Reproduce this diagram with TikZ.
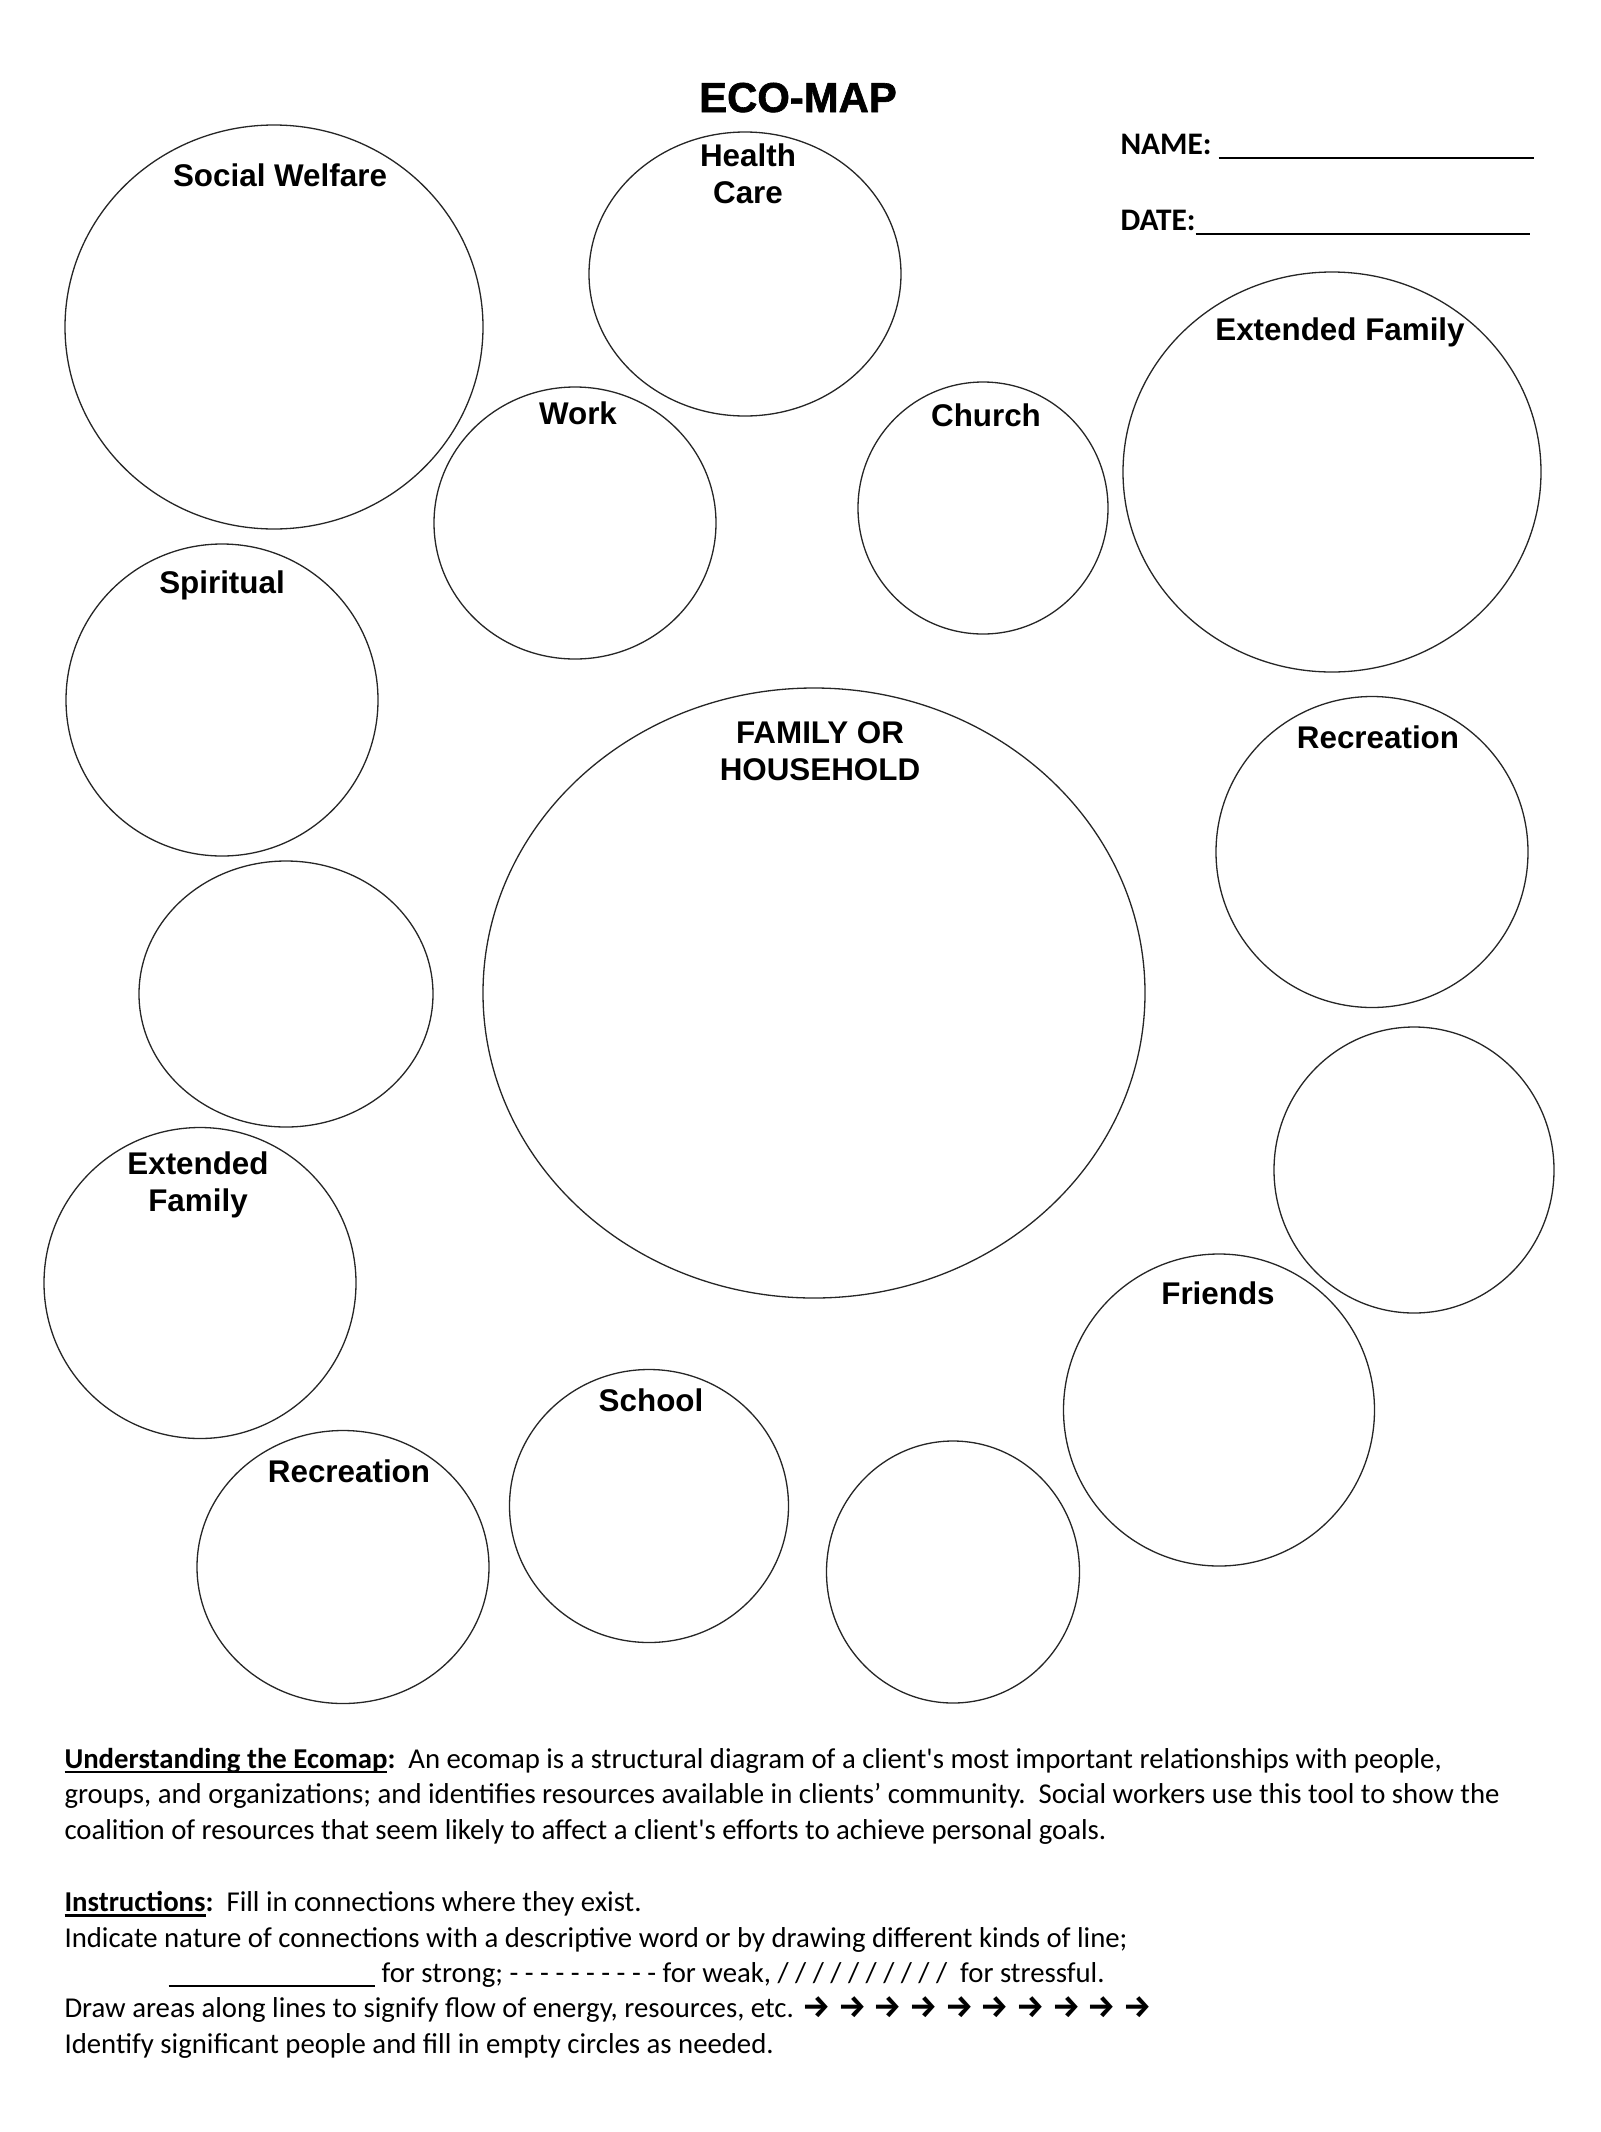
\documentclass[tikz,border=0pt]{standalone}
\usepackage{fontspec}
\setmainfont{Carlito}
\newfontfamily\arialfont{Liberation Sans}
\newfontfamily\arrowfont{Fira Sans}
\usetikzlibrary{shapes.geometric}
\newcommand{\heavyul}[1]{\setbox0=\hbox{#1}\rlap{\rule[-1.9pt]{\wd0}{0.9pt}}\box0}

\begin{document}
\begin{tikzpicture}[
    x=0.3825pt, y=-0.3825pt,
    ring/.style 2 args={draw=black!85, line width=0.5pt, ellipse, inner sep=0pt, minimum width=#1*0.3825pt, minimum height=#2*0.3825pt},
    tag/.style={font=\arialfont\bfseries\fontsize{12}{13.8}\selectfont, inner sep=0pt, align=center, anchor=base},
    heading/.style={font=\arialfont\bfseries\fontsize{16}{19}\selectfont\addfontfeature{FakeBold=1.5}, inner sep=0pt, anchor=base},
    field/.style={font=\bfseries\fontsize{12}{14}\selectfont, inner sep=0pt, anchor=base west},
    note/.style={font=\fontsize{11}{13.5}\selectfont, inner sep=0pt, align=left, anchor=base west}
]
\useasboundingbox (0,0) rectangle (1600,2132);

% header
\node[heading] (title) at (798,112) {ECO-MAP};
\node[field] (name) at (1120,154) {NAME: \rule[-2pt]{120.5pt}{1pt}};
\node[field] (date) at (1120,230) {DATE:\rule[-2pt]{128pt}{1pt}};

% circles
\node[ring={418}{404}] (welfare) at (274,327) {};
\node[ring={312}{284}] (health) at (745,274) {};
\node[ring={282}{272}] (work) at (575,523) {};
\node[ring={250}{252}] (church) at (983,508) {};
\node[ring={418}{400}] (extR) at (1332,472) {};
\node[ring={312}{312}] (spirit) at (222,700) {};
\node[ring={294}{266}] (blankW) at (286,994) {};
\node[ring={662}{610}] (family) at (814,993) {};
\node[ring={312}{311}] (recR) at (1372,852) {};
\node[ring={280}{286}] (blankE) at (1414,1170) {};
\node[ring={312}{311}] (extL) at (200,1283) {};
\node[ring={311}{312}] (friends) at (1219,1410) {};
\node[ring={292}{273}] (recL) at (343,1567) {};
\node[ring={279}{273}] (school) at (649,1506) {};
\node[ring={253}{262}] (blankS) at (953,1572) {};

% labels (base = last line)
\node[tag] (welfareT) at (280,186) {Social Welfare};
\node[tag] (healthT) at (748,203) {Health\\Care};
\node[tag] (workT) at (578,424) {Work};
\node[tag] (churchT) at (986,426) {Church};
\node[tag] (extRT) at (1340,340) {Extended Family};
\node[tag] (spiritT) at (222,593) {Spiritual};
\node[tag] (familyT) at (820,780) {FAMILY OR\\HOUSEHOLD};
\node[tag] (recRT) at (1378,748) {Recreation};
\node[tag] (extLT) at (198,1211) {Extended\\Family};
\node[tag] (friendsT) at (1218,1304) {Friends};
\node[tag] (recLT) at (349,1482) {Recreation};
\node[tag] (schoolT) at (651,1411) {School};

% notes
\node[note] (about) at (64,1839) {\heavyul{\textbf{Understanding the Ecomap}}\textbf{:}\ \ An ecomap is a structural diagram of a client\textquotesingle s most important relationships with people,\\
groups, and organizations; and identifies resources available in clients’ community.\ \ Social workers use this tool to show the\\
coalition of resources that seem likely to affect a client\textquotesingle s efforts to achieve personal goals.};
\node[note] (howto) at (64,2053) {\heavyul{\textbf{Instructions}}\textbf{:}\ \ Fill in connections where they exist.\\
Indicate nature of connections with a descriptive word or by drawing different kinds of line;\\
\hspace*{39.8pt}\rule[-1.6pt]{79pt}{0.8pt} for strong; - - - - - - - - - - for weak, / / / / / / / / / /\ \ for stressful.\\
Draw areas along lines to signify flow of energy, resources, etc. {\arrowfont\bfseries\fontsize{12}{13.5}\selectfont → → → → → → → → → →}\\
Identify significant people and fill in empty circles as needed.};
\end{tikzpicture}
\end{document}
